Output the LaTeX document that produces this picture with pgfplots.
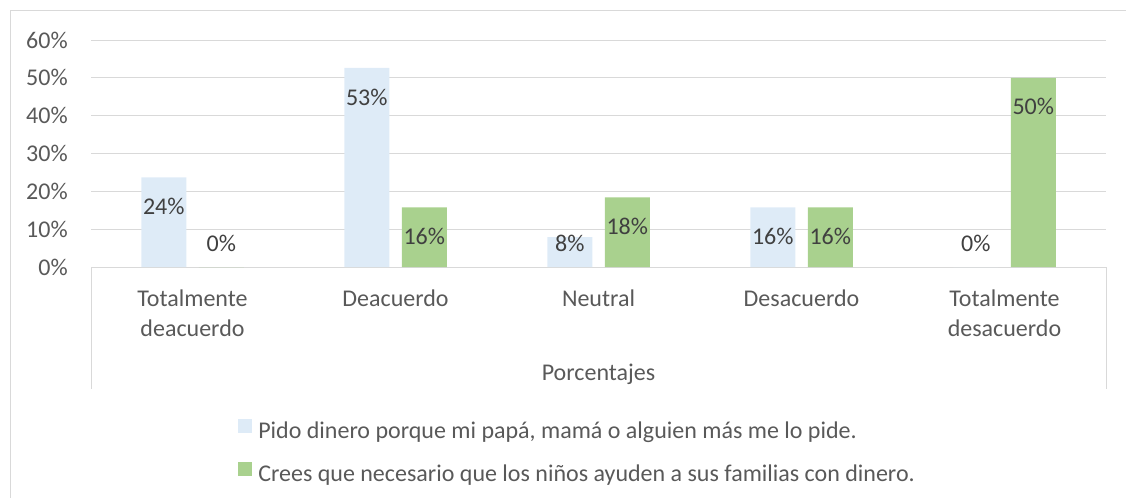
\documentclass[border=0pt]{standalone}
\usepackage{pgfplots}
\pgfplotsset{compat=1.18}
\usepackage{fontspec}
\setmainfont{Carlito}
\definecolor{barblue}{RGB}{222,235,247}
\definecolor{bargreen}{RGB}{169,209,142}
\definecolor{gridgray}{RGB}{217,217,217}
\definecolor{ticktext}{RGB}{89,89,89}
\definecolor{labeltext}{RGB}{64,64,64}
\begin{document}
\fontsize{18}{22.1}\selectfont
\begin{tikzpicture}[font=\fontsize{18}{22.1}\selectfont]
\useasboundingbox (0pt,0pt) rectangle (844.5pt,-372.75pt);
\draw[gridgray, line width=0.75pt] (7.5pt,-380pt) -- (7.5pt,-7.5pt) -- (850pt,-7.5pt);
\draw[gridgray, line width=0.75pt] (68.25pt,-200.25pt) -- (68.25pt,-291.75pt);
\draw[gridgray, line width=0.75pt] (829.5pt,-200.25pt) -- (829.5pt,-291.75pt);
\begin{axis}[
  at={(68.25pt,-200.25pt)}, anchor=south west,
  scale only axis, width=761.25pt, height=170.25pt,
  ybar=9.375pt, bar width=33.75pt,
  xmin=-0.5, xmax=4.5, ymin=0, ymax=60,
  xtick={0,1,2,3,4},
  xticklabels={{Totalmente\\deacuerdo},Deacuerdo,Neutral,Desacuerdo,{Totalmente\\desacuerdo}},
  ytick={0,10,...,60},
  yticklabel={\pgfmathprintnumber{\tick}\%},
  /pgf/number format/assume math mode=true,
  major tick length=0pt,
  axis line style={draw=none},
  ymajorgrids, grid style={gridgray, line width=0.75pt},
  yticklabel style={anchor=east, inner sep=0pt, xshift=-17.25pt, text=ticktext},
  xticklabel style={anchor=north, inner sep=0pt, yshift=-17pt, align=center, text=ticktext},
  xlabel=Porcentajes,
  xlabel style={at={(axis description cs:0.5,-0.5)}, anchor=base, inner sep=0pt, text=ticktext},
  nodes near coords={\pgfmathprintnumber[fixed,precision=0]{\pgfplotspointmeta}\%},
  nodes near coords style={text=labeltext, anchor=center, inner sep=0pt},
  visualization depends on={y \as \rawy},
  every node near coord/.append style={shift={(axis direction cs:0,{max(-7.67,6.35-\rawy)})}},
  legend image code/.code={\fill[#1] (0pt,0pt) rectangle (10.5pt,10.5pt);},
  legend cell align=left,
  legend style={at={(axis description cs:0.14483,-0.6696)}, anchor=north west, draw=none, fill=none,
    inner sep=0pt, column sep=4.5pt, row sep=15pt,
    nodes={inner sep=0pt, text=ticktext, text height=10.5pt, text depth=3pt}},
]
\addplot[fill=barblue, draw=none] coordinates {(0,23.68) (1,52.63) (2,7.89) (3,15.79) (4,0)};
\addplot[fill=bargreen, draw=none] coordinates {(0,0) (1,15.79) (2,18.42) (3,15.79) (4,50)};
\legend{{Pido dinero porque mi papá, mamá o alguien más me lo pide.},{Crees que necesario que los niños ayuden a sus familias con dinero.}}
\end{axis}
\end{tikzpicture}
\end{document}
